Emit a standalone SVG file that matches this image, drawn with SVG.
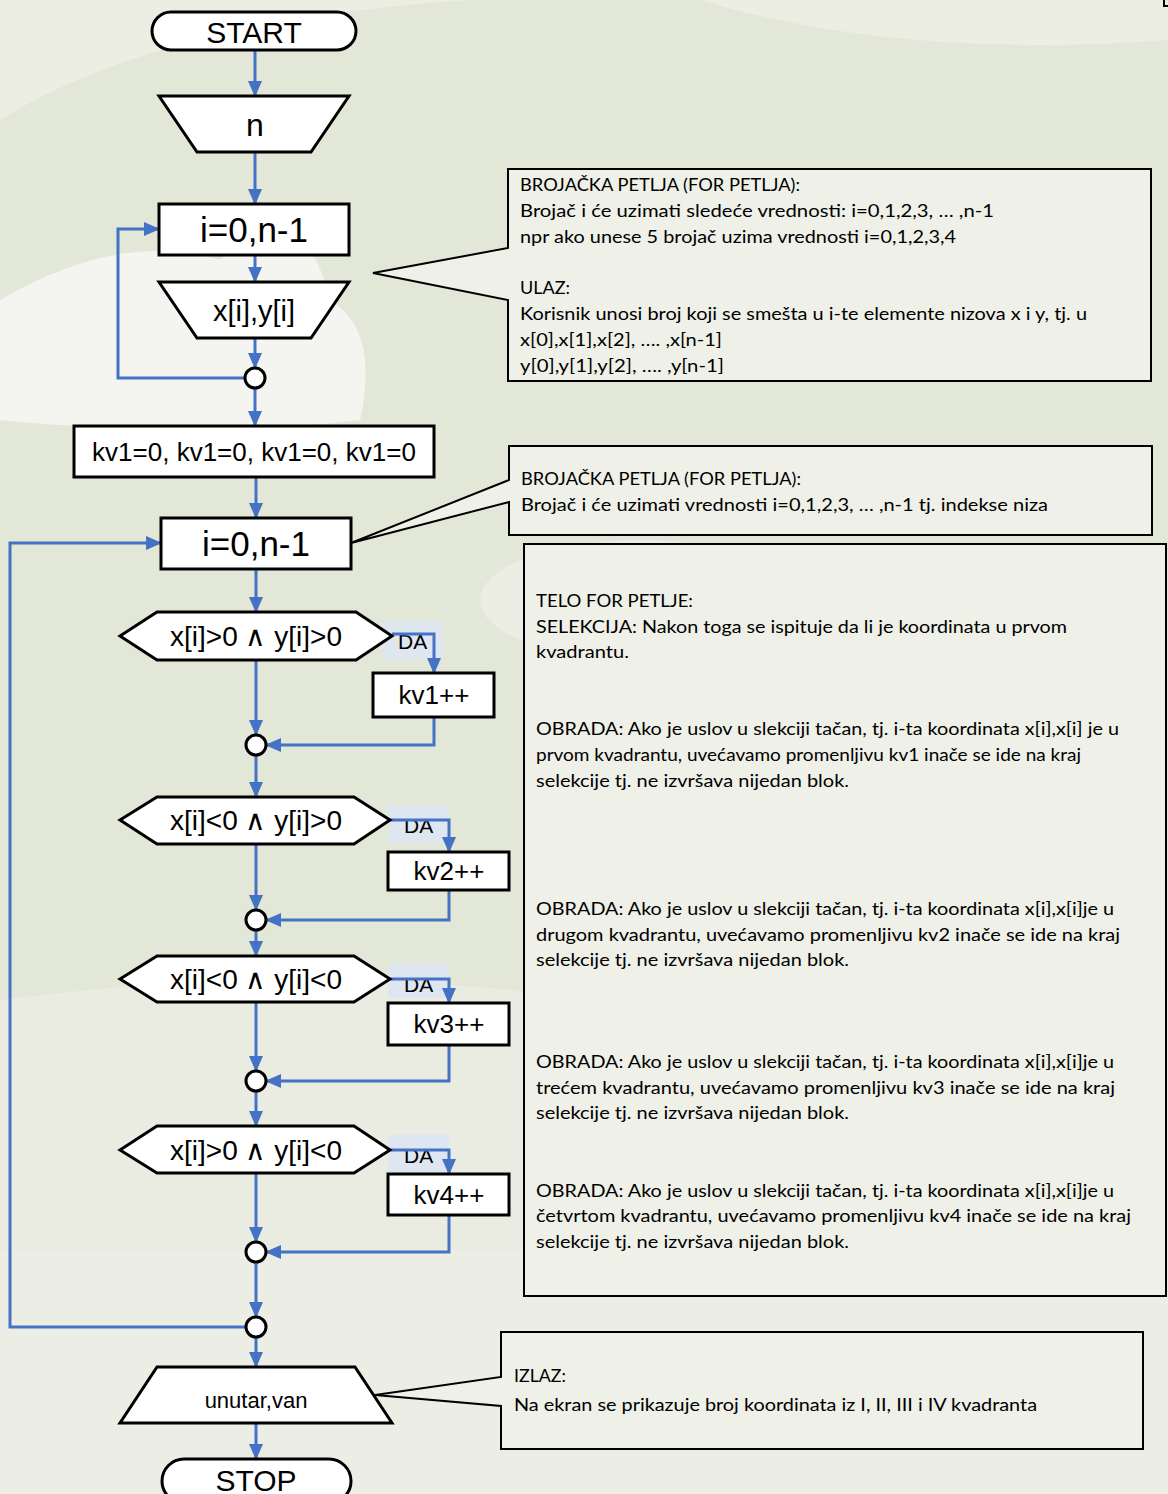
<svg xmlns="http://www.w3.org/2000/svg" width="1168" height="1494" viewBox="0 0 1168 1494">
  <style>
    .shape { fill: #ffffff; stroke: #000000; stroke-width: 3; }
    .flow { font-family: "Liberation Sans", Arial, sans-serif; fill: #000000; text-anchor: middle; }
    .wire { fill: none; stroke: #4472c4; stroke-width: 3; }
    .arrow { marker-end: url(#ah); }
    .note { fill: #eff0e8; stroke: #000000; stroke-width: 2; }
    .note-text { font-family: Lato, "Open Sans", sans-serif; font-size: 18px; fill: #000000; }
    .da-box { fill: #dde6f3; opacity: 0.9; }
    .da { font-family: "Liberation Sans", Arial, sans-serif; font-size: 21px; fill: #000000; }
  </style>
  <defs>
    <marker id="ah" viewBox="0 0 16 14" refX="15" refY="7" markerWidth="16" markerHeight="14" markerUnits="userSpaceOnUse" orient="auto">
      <path d="M0,0 L16,7 L0,14 Z" fill="#4472c4"/>
    </marker>
  </defs>

  <!-- backdrop -->
  <g id="backdrop">
    <rect x="0" y="0" width="1168" height="1494" fill="#e3e7d8"/>
    <path d="M0,120 Q160,20 470,0 L0,0 Z" fill="#eceee4"/>
    <path d="M700,0 Q900,60 1168,40 L1168,0 Z" fill="#eceee4"/>
    <path d="M0,300 Q120,230 220,260 Q300,180 330,300 Q380,330 360,420 Q200,440 0,420 Z" fill="#f4f5f0"/>
    <ellipse cx="640" cy="600" rx="160" ry="60" fill="#eceee4"/>
    <path d="M0,1000 Q300,960 600,1000 L1168,990 L1168,1494 L0,1494 Z" fill="#eaece2"/>
    <path d="M0,1250 L1168,1250 L1168,1494 L0,1494 Z" fill="#eceee5"/>
  </g>

  <!-- connectors -->
  <g id="connectors">
    <line class="wire arrow" x1="255" y1="50" x2="255" y2="96"/>
    <line class="wire arrow" x1="255" y1="152" x2="255" y2="204"/>
    <line class="wire arrow" x1="255" y1="255" x2="255" y2="282"/>
    <line class="wire arrow" x1="255" y1="338" x2="255" y2="368"/>
    <polyline class="wire arrow" points="245,378 118,378 118,229 159,229"/>
    <line class="wire arrow" x1="255" y1="388" x2="255" y2="426"/>
    <line class="wire arrow" x1="256" y1="477" x2="256" y2="518"/>
    <line class="wire arrow" x1="256" y1="569" x2="256" y2="612"/>

    <!-- selection 1 -->
    <rect class="da-box" x="382" y="621" width="61" height="38"/>
    <text class="da" x="398" y="649">DA</text>
    <polyline class="wire arrow" points="392,634 434,634 434,673"/>
    <polyline class="wire arrow" points="434,717 434,745 266,745"/>
    <line class="wire arrow" x1="256" y1="660" x2="256" y2="735"/>
    <line class="wire arrow" x1="256" y1="755" x2="256" y2="797"/>

    <!-- selection 2 -->
    <rect class="da-box" x="388" y="805" width="61" height="38"/>
    <text class="da" x="404" y="833">DA</text>
    <polyline class="wire arrow" points="390,820 449,820 449,852"/>
    <polyline class="wire arrow" points="449,890 449,920 266,920"/>
    <line class="wire arrow" x1="256" y1="844" x2="256" y2="910"/>
    <line class="wire arrow" x1="256" y1="930" x2="256" y2="956"/>

    <!-- selection 3 -->
    <rect class="da-box" x="388" y="964" width="61" height="34"/>
    <text class="da" x="404" y="992">DA</text>
    <polyline class="wire arrow" points="390,979 449,979 449,1003"/>
    <polyline class="wire arrow" points="449,1045 449,1081 266,1081"/>
    <line class="wire arrow" x1="256" y1="1002" x2="256" y2="1071"/>
    <line class="wire arrow" x1="256" y1="1091" x2="256" y2="1126"/>

    <!-- selection 4 -->
    <rect class="da-box" x="388" y="1135" width="61" height="37"/>
    <text class="da" x="404" y="1163">DA</text>
    <polyline class="wire arrow" points="390,1150 449,1150 449,1174"/>
    <polyline class="wire arrow" points="449,1215 449,1252 266,1252"/>
    <line class="wire arrow" x1="256" y1="1173" x2="256" y2="1242"/>
    <line class="wire arrow" x1="256" y1="1262" x2="256" y2="1317"/>

    <polyline class="wire arrow" points="246,1327 10,1327 10,543 161,543"/>
    <line class="wire arrow" x1="256" y1="1337" x2="256" y2="1367"/>
    <line class="wire arrow" x1="256" y1="1423" x2="256" y2="1459"/>
  </g>

  <!-- flowchart nodes -->
  <g id="start">
    <rect class="shape" x="152" y="12" width="204" height="38" rx="19"/>
    <text class="flow" x="254" y="43" font-size="30">START</text>
  </g>
  <g id="input-n">
    <polygon class="shape" points="159,96 349,96 311,152 197,152"/>
    <text class="flow" x="255" y="136" font-size="32">n</text>
  </g>
  <g id="loop-input">
    <rect class="shape" x="159" y="204" width="190" height="51"/>
    <text class="flow" x="254" y="242" font-size="35">i=0,n-1</text>
  </g>
  <g id="input-xy">
    <polygon class="shape" points="159,282 349,282 311,338 197,338"/>
    <text class="flow" x="254" y="321" font-size="29">x[i],y[i]</text>
  </g>
  <g id="join-input">
    <circle class="shape" cx="255" cy="378" r="10"/>
  </g>
  <g id="init">
    <rect class="shape" x="74" y="426" width="360" height="51"/>
    <text class="flow" x="254" y="461" font-size="26">kv1=0, kv1=0, kv1=0, kv1=0</text>
  </g>
  <g id="loop-main">
    <rect class="shape" x="161" y="518" width="190" height="51"/>
    <text class="flow" x="256" y="556" font-size="35">i=0,n-1</text>
  </g>

  <g id="cond-1">
    <polygon class="shape" points="120,636 157,612 356,612 392,636 356,660 157,660"/>
    <text class="flow" x="256" y="646" font-size="28">x[i]&gt;0 ∧ y[i]&gt;0</text>
  </g>
  <g id="inc-kv1">
    <rect class="shape" x="373" y="673" width="121" height="44"/>
    <text class="flow" x="434" y="704" font-size="26">kv1++</text>
  </g>
  <g id="join-1">
    <circle class="shape" cx="256" cy="745" r="10"/>
  </g>

  <g id="cond-2">
    <polygon class="shape" points="120,820 157,797 354,797 390,820 354,844 157,844"/>
    <text class="flow" x="256" y="830" font-size="28">x[i]&lt;0 ∧ y[i]&gt;0</text>
  </g>
  <g id="inc-kv2">
    <rect class="shape" x="388" y="852" width="121" height="38"/>
    <text class="flow" x="449" y="880" font-size="26">kv2++</text>
  </g>
  <g id="join-2">
    <circle class="shape" cx="256" cy="920" r="10"/>
  </g>

  <g id="cond-3">
    <polygon class="shape" points="120,979 157,956 354,956 390,979 354,1002 157,1002"/>
    <text class="flow" x="256" y="989" font-size="28">x[i]&lt;0 ∧ y[i]&lt;0</text>
  </g>
  <g id="inc-kv3">
    <rect class="shape" x="388" y="1003" width="121" height="42"/>
    <text class="flow" x="449" y="1033" font-size="26">kv3++</text>
  </g>
  <g id="join-3">
    <circle class="shape" cx="256" cy="1081" r="10"/>
  </g>

  <g id="cond-4">
    <polygon class="shape" points="120,1150 157,1126 354,1126 390,1150 354,1173 157,1173"/>
    <text class="flow" x="256" y="1160" font-size="28">x[i]&gt;0 ∧ y[i]&lt;0</text>
  </g>
  <g id="inc-kv4">
    <rect class="shape" x="388" y="1174" width="121" height="41"/>
    <text class="flow" x="449" y="1204" font-size="26">kv4++</text>
  </g>
  <g id="join-4">
    <circle class="shape" cx="256" cy="1252" r="10"/>
  </g>

  <g id="join-loop">
    <circle class="shape" cx="256" cy="1327" r="10"/>
  </g>
  <g id="output">
    <polygon class="shape" points="157,1367 355,1367 392,1423 120,1423"/>
    <text class="flow" x="256" y="1408" font-size="22">unutar,van</text>
  </g>
  <g id="stop">
    <rect class="shape" x="162" y="1459" width="189" height="44" rx="22"/>
    <text class="flow" x="256" y="1491" font-size="30">STOP</text>
  </g>

  <!-- explanatory notes -->
  <g id="note-input">
    <path class="note" d="M508,169 H1151 V381 H508 V300 L373,273 L508,248 Z"/>
    <text class="note-text" x="520" y="191" textLength="280" lengthAdjust="spacingAndGlyphs">BROJAČKA PETLJA (FOR PETLJA):</text>
    <text class="note-text" x="520" y="217" textLength="474" lengthAdjust="spacingAndGlyphs">Brojač i će uzimati sledeće vrednosti:   i=0,1,2,3, … ,n-1</text>
    <text class="note-text" x="520" y="243" textLength="436" lengthAdjust="spacingAndGlyphs">npr ako unese 5 brojač uzima vrednosti i=0,1,2,3,4</text>
    <text class="note-text" x="520" y="294" textLength="50" lengthAdjust="spacingAndGlyphs">ULAZ:</text>
    <text class="note-text" x="520" y="320" textLength="567" lengthAdjust="spacingAndGlyphs">Korisnik unosi broj koji se smešta u i-te elemente nizova x i y, tj. u</text>
    <text class="note-text" x="520" y="346" textLength="202" lengthAdjust="spacingAndGlyphs">x[0],x[1],x[2], …. ,x[n-1]</text>
    <text class="note-text" x="520" y="372" textLength="204" lengthAdjust="spacingAndGlyphs">y[0],y[1],y[2], …. ,y[n-1]</text>
  </g>

  <g id="note-loop">
    <path class="note" d="M509,446 H1152 V535 H509 V502 L351,543 L509,480 Z"/>
    <text class="note-text" x="521" y="485" textLength="280" lengthAdjust="spacingAndGlyphs">BROJAČKA PETLJA (FOR PETLJA):</text>
    <text class="note-text" x="521" y="511" textLength="527" lengthAdjust="spacingAndGlyphs">Brojač i će uzimati vrednosti  i=0,1,2,3, … ,n-1 tj. indekse niza</text>
  </g>

  <g id="note-body">
    <rect class="note" x="524" y="544" width="642" height="752"/>
    <text class="note-text" x="536" y="607" textLength="157" lengthAdjust="spacingAndGlyphs">TELO FOR  PETLJE:</text>
    <text class="note-text" x="536" y="633" textLength="531" lengthAdjust="spacingAndGlyphs">SELEKCIJA: Nakon  toga se ispituje da li je koordinata u prvom</text>
    <text class="note-text" x="536" y="658" textLength="93" lengthAdjust="spacingAndGlyphs">kvadrantu.</text>

    <text class="note-text" x="536" y="735" textLength="583" lengthAdjust="spacingAndGlyphs">OBRADA: Ako je uslov u slekciji tačan, tj. i-ta koordinata x[i],x[i] je u</text>
    <text class="note-text" x="536" y="761" textLength="545" lengthAdjust="spacingAndGlyphs">prvom kvadrantu, uvećavamo promenljivu kv1 inače se ide na kraj</text>
    <text class="note-text" x="536" y="787" textLength="313" lengthAdjust="spacingAndGlyphs">selekcije tj. ne izvršava nijedan blok.</text>

    <text class="note-text" x="536" y="915" textLength="578" lengthAdjust="spacingAndGlyphs">OBRADA: Ako je uslov u slekciji tačan, tj. i-ta koordinata x[i],x[i]je u</text>
    <text class="note-text" x="536" y="941" textLength="584" lengthAdjust="spacingAndGlyphs">drugom kvadrantu, uvećavamo promenljivu kv2 inače se ide na kraj</text>
    <text class="note-text" x="536" y="966" textLength="313" lengthAdjust="spacingAndGlyphs">selekcije tj. ne izvršava nijedan blok.</text>

    <text class="note-text" x="536" y="1068" textLength="578" lengthAdjust="spacingAndGlyphs">OBRADA: Ako je uslov u slekciji tačan, tj. i-ta koordinata x[i],x[i]je u</text>
    <text class="note-text" x="536" y="1094" textLength="579" lengthAdjust="spacingAndGlyphs">trećem kvadrantu, uvećavamo promenljivu kv3 inače se ide na kraj</text>
    <text class="note-text" x="536" y="1119" textLength="313" lengthAdjust="spacingAndGlyphs">selekcije tj. ne izvršava nijedan blok.</text>

    <text class="note-text" x="536" y="1197" textLength="578" lengthAdjust="spacingAndGlyphs">OBRADA: Ako je uslov u slekciji tačan, tj. i-ta koordinata x[i],x[i]je u</text>
    <text class="note-text" x="536" y="1222" textLength="595" lengthAdjust="spacingAndGlyphs">četvrtom kvadrantu, uvećavamo promenljivu kv4 inače se ide na kraj</text>
    <text class="note-text" x="536" y="1248" textLength="313" lengthAdjust="spacingAndGlyphs">selekcije tj. ne izvršava nijedan blok.</text>
  </g>

  <g id="note-output">
    <path class="note" d="M501,1332 H1143 V1449 H501 V1406 L375,1395 L501,1377 Z"/>
    <text class="note-text" x="514" y="1382" textLength="52" lengthAdjust="spacingAndGlyphs">IZLAZ:</text>
    <text class="note-text" x="514" y="1411" textLength="523" lengthAdjust="spacingAndGlyphs">Na ekran se prikazuje broj koordinata iz I, II, III i IV kvadranta</text>
  </g>

  <!-- frame corner at the top right -->
  <path d="M1164,0 V6 H1168" fill="none" stroke="#000000" stroke-width="2"/>
</svg>
